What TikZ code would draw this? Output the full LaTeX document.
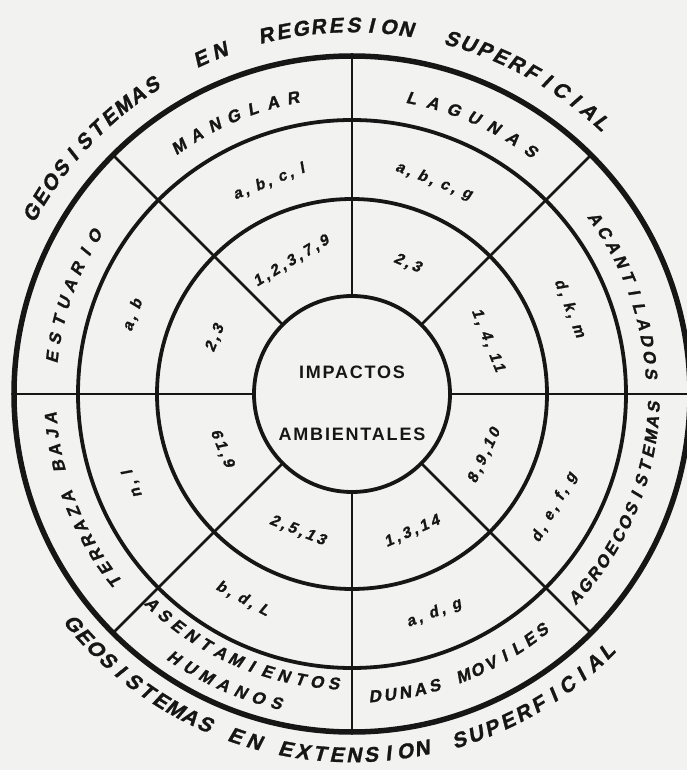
\documentclass[tikz,border=0pt]{standalone}
\usepackage{fontspec}
\newfontfamily\lett[FakeSlant=0.2,FakeBold=1.3]{Liberation Sans Bold}
\newfontfamily\numfam[FakeSlant=0.2,FakeBold=1.3,LetterSpace=20]{Liberation Sans Bold}
\newfontfamily\helfam[LetterSpace=10]{Liberation Sans Bold}
\definecolor{paper}{RGB}{242,242,240}
\definecolor{ink}{RGB}{22,22,22}
\newcommand\titlef{\lett\fontsize{21}{21}\selectfont}
\newcommand\ringf{\lett\fontsize{17}{17}\selectfont}
\newcommand\numf{\numfam\fontsize{15.5}{15.5}\selectfont}
% #1 name, #2 radius, #3 start angle, #4 step, #5 rotation offset, #6 font, #7 letters
\newcommand\arctext[7]{%
  \foreach \ch [count=\k from 0] in {#7} {%
    \pgfmathsetmacro\aa{#3+\k*(#4)}%
    \node[inner sep=0pt, text=ink, font=#6, rotate=\aa+#5] (#1\k) at (\aa:#2pt) {\ch};%
  }%
}
\tikzset{
  ring/.style={draw=ink, line width=3.8pt},
  rim/.style={draw=ink, line width=5.5pt},
  spoke/.style={draw=ink, line width=2.8pt},
  numlab/.style={inner sep=0pt, text=ink, font=\numf},
  center/.style={inner sep=0pt, text=ink, font=\helfam\fontsize{18}{18}\selectfont}
}
\begin{document}
\begin{tikzpicture}
\fill[paper] (-352pt,-376pt) rectangle (335pt,394pt);
\useasboundingbox (-352pt,-376pt) rectangle (335pt,394pt);
% spokes
\foreach \a in {0,45,...,315} \draw[spoke] (\a:98pt) -- (\a:338pt);
% rings
\draw[ring] (0,0) circle (98pt);
\draw[ring] (0,0) circle (195pt);
\draw[ring] (0,0) circle (274pt);
\draw[rim] (0,0) circle (338pt);
% centre
\node[center] (imp) at (0,22pt) {IMPACTOS};
\node[center] (amb) at (0,-40pt) {AMBIENTALES};
% outer titles
\arctext{ta}{368}{150.5}{-2.75}{-90}{\titlef}{G,E,O,S,I,S,T,E,M,A,S}
\arctext{tb}{368}{114.3}{-3.2}{-90}{\titlef}{E,N}
\arctext{tc}{369}{103.5}{-2.74}{-90}{\titlef}{R,E,G,R,E,S,I,O,N}
\arctext{td}{369}{74.3}{-2.69}{-90}{\titlef}{S,U,P,E,R,F,I,C,I,A,L}
\arctext{ba}{361}{219.5}{2.65}{90}{\titlef}{G,E,O,S,I,S,T,E,M,A,S}
\arctext{bb}{361}{251.2}{3.1}{90}{\titlef}{E,N}
\arctext{bc}{361}{259.4}{2.72}{90}{\titlef}{E,X,T,E,N,S,I,O,N}
\arctext{bd}{362}{287.2}{2.75}{90}{\titlef}{S,U,P,E,R,F,I,C,I,A,L}
% outer ring labels
\arctext{ma}{302}{125}{-3.95}{-90}{\ringf}{M,A,N,G,L,A,R}
\arctext{la}{302}{78.6}{-4.15}{-90}{\ringf}{L,A,G,U,N,A,S}
\arctext{ac}{300}{35.8}{-3.18}{-90}{\ringf}{A,C,A,N,T,I,L,A,D,O,S}
\arctext{es}{302}{173}{-3.5}{-90}{\ringf}{E,S,T,U,A,R,I,O}
\arctext{te}{302}{218.4}{-3.07}{-90}{\ringf}{T,E,R,R,A,Z,A,{},B,A,J,A}
\arctext{ag}{302}{-42.3}{2.84}{90}{\ringf}{A,G,R,O,E,C,O,S,I,S,T,E,M,A,S}
\arctext{du}{303}{-85.7}{2.87}{90}{\ringf}{D,U,N,A,S,{},M,O,V,I,L,E,S}
\arctext{as}{290}{226.4}{3.33}{90}{\ringf}{A,S,E,N,T,A,M,I,E,N,T,O,S}
\arctext{hu}{318}{236}{3.37}{90}{\ringf}{H,U,M,A,N,O,S}
% third ring
\node[numlab, rotate=21.4] (r3a) at (111.4:228pt) {a, b, c, l};
\node[numlab, rotate=-21] (r3b) at (69:228pt) {a, b, c, g};
\node[numlab, rotate=-68.5] (r3c) at (21.5:234pt) {d, k, m};
\node[numlab, rotate=60.7] (r3d) at (-29.3:232pt) {d, e, f, g};
\node[numlab, rotate=20.5] (r3e) at (-69.5:234pt) {a, d, g};
\node[numlab, rotate=-28.1] (r3f) at (241.9:232pt) {b, d, L};
\node[numlab, rotate=112.3] (r3g) at (202.3:237pt) {n, l};
\node[numlab, rotate=70.2] (r3h) at (160.2:233pt) {a, b};
% second ring
\node[numlab, rotate=67.8] (r2a) at (157.8:148pt) {2,3};
\node[numlab, rotate=31] (r2b) at (114.5:146pt) {1,2,3,7,9};
\node[numlab, rotate=-23] (r2c) at (67:142pt) {2,3};
\node[numlab, rotate=-68.4] (r2d) at (21.6:146pt) {1, 4, 11};
\node[numlab, rotate=65] (r2e) at (-25:146pt) {8,9,10};
\node[numlab, rotate=23.6] (r2f) at (-66.4:150pt) {1,3,14};
\node[numlab, rotate=-21.7] (r2g) at (248.3:147pt) {2,5,13};
\node[numlab, rotate=-67.3] (r2h) at (202.7:141pt) {61,9};
\end{tikzpicture}
\end{document}
